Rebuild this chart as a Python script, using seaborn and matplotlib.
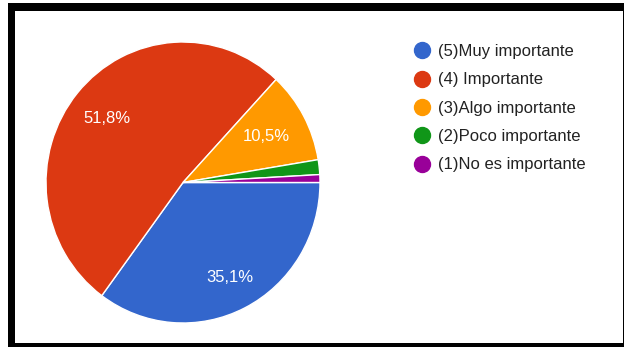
import numpy as np
import matplotlib
matplotlib.use("Agg")
import matplotlib.pyplot as plt
from matplotlib.patches import Rectangle
from matplotlib.lines import Line2D
import seaborn as sns

# Survey answers and their share of responses (%)
categories = ["(5)Muy importante", "(4) Importante", "(3)Algo importante",
              "(2)Poco importante", "(1)No es importante"]
shares = [35.1, 51.8, 10.5, 1.7, 0.9]
colors = ["#3366cc", "#dc3912", "#ff9900", "#109618", "#990099"]

sns.set_theme(style="white")
plt.rcParams["font.family"] = ["Liberation Sans", "DejaVu Sans"]

W, H = 624, 347
fig = plt.figure(figsize=(W / 100, H / 100), dpi=100)
fig.patch.set_facecolor("white")

# Black frame around the card
fig.add_artist(Rectangle((7.5 / W, 0), 1 - 7.5 / W, 344 / H,
                         transform=fig.transFigure, facecolor="black",
                         edgecolor="none", zorder=0))
fig.add_artist(Rectangle((15 / W, 4 / H), (622.5 - 15) / W, (336 - 4) / H,
                         transform=fig.transFigure, facecolor="white",
                         edgecolor="none", zorder=0))

# Pie area (pixel box of the disc)
left, right, top, bottom = 46, 320, 42, 323
ax = fig.add_axes([left / W, (H - bottom) / H, (right - left) / W, (bottom - top) / H])
palette = sns.color_palette(colors)

wedges, texts, autotexts = ax.pie(
    shares, colors=palette, startangle=0, counterclock=False,
    autopct=lambda p: (f"{p:.1f}".replace(".", ",") + "%") if p >= 5 else "",
    wedgeprops=dict(edgecolor="white", linewidth=1.0),
    textprops=dict(color="white", fontsize=12),
)
ax.set_aspect("auto")
ax.set_xlim(-1, 1)
ax.set_ylim(-1, 1)
ax.axis("off")

# Radial placement of the percentage labels
label_r = [0.755, 0.717, 0.69, 0.7, 0.7]
for w, t, r in zip(wedges, autotexts, label_r):
    mid = np.deg2rad((w.theta1 + w.theta2) / 2)
    t.set_position((r * np.cos(mid), r * np.sin(mid)))
    t.set_ha("center")
    t.set_va("center")

handles = [Line2D([0], [0], marker="o", linestyle="none", markersize=11.5,
                  markerfacecolor=c, markeredgecolor=c) for c in palette]
fig.legend(handles, categories, loc="upper left",
           bbox_to_anchor=(412 / W, 1 - 44 / H), frameon=False,
           fontsize=12, labelspacing=0.8, handletextpad=0.36,
           handlelength=1.2, borderpad=0, borderaxespad=0,
           labelcolor="#222222")

fig.savefig("out.png", dpi=100)
